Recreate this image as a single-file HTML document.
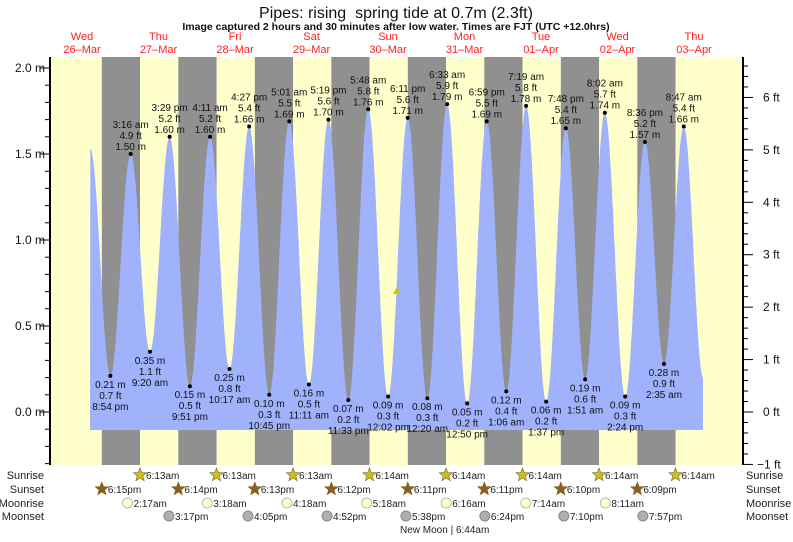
<!DOCTYPE html>
<html><head><meta charset="utf-8"><style>
body{margin:0;background:#fff;}
svg text{font-family:"Liberation Sans",sans-serif;}
</style></head><body>
<svg id="s" width="793" height="537" xmlns="http://www.w3.org/2000/svg">
<rect x="0" y="0" width="793" height="537" fill="#fff"/>
<rect x="50" y="57" width="693" height="408" fill="#ffffcc"/>
<g id="night" fill="#909090"></g>
<path id="tide" fill="#a0b2fc"/>
<g id="lbl" font-size="10" fill="#111" text-anchor="middle"></g>
<line x1="50" y1="57" x2="50" y2="465" stroke="#000" stroke-width="2"/>
<line x1="743" y1="57" x2="743" y2="465" stroke="#000" stroke-width="2"/>
<g id="ax" stroke="#000" stroke-width="1"></g>
<g font-size="12" fill="#111">
<text x="45" y="72" text-anchor="end">2.0 m</text>
<text x="45" y="158" text-anchor="end">1.5 m</text>
<text x="45" y="244" text-anchor="end">1.0 m</text>
<text x="45" y="330" text-anchor="end">0.5 m</text>
<text x="45" y="416" text-anchor="end">0.0 m</text>
</g>
<g id="ft" font-size="12" fill="#111"></g>
<text x="396" y="18" font-size="16" text-anchor="middle" fill="#111" style="white-space:pre">Pipes: rising  spring tide at 0.7m (2.3ft)</text>
<text x="396" y="30" font-size="10.5" font-weight="bold" text-anchor="middle" fill="#111">Image captured 2 hours and 30 minutes after low water. Times are FJT (UTC +12.0hrs)</text>
<g id="days" font-size="11" fill="#ff2020" text-anchor="middle"></g>
<polygon points="397,287 401,294 393,294" fill="#c8c020"/>
<g font-size="11" fill="#222">
<text x="44" y="479" text-anchor="end">Sunrise</text>
<text x="44" y="493" text-anchor="end">Sunset</text>
<text x="44" y="507" text-anchor="end">Moonrise</text>
<text x="44" y="520" text-anchor="end">Moonset</text>
<text x="746" y="479">Sunrise</text>
<text x="746" y="493">Sunset</text>
<text x="746" y="507">Moonrise</text>
<text x="746" y="520">Moonset</text>
</g>
<g id="ev" font-size="10" fill="#222"></g>
<text x="400" y="533" font-size="10" fill="#222">New Moon | 6:44am</text>
</svg>
<script>
var NS="http://www.w3.org/2000/svg";
function X(t){return 82+(t-12)*3.1875;}
function Y(m){return 412-m*172;}
function el(p,tag,a,txt){var e=document.createElementNS(NS,tag);for(var k in a)e.setAttribute(k,a[k]);if(txt!=null)e.textContent=txt;document.getElementById(p).appendChild(e);return e;}
for(var d=0;d<8;d++){var x0=X(18.22+24*d);el("night","rect",{x:x0,y:57,width:38.2,height:408});}
var dn=["Wed","Thu","Fri","Sat","Sun","Mon","Tue","Wed","Thu"],dd=["26–Mar","27–Mar","28–Mar","29–Mar","30–Mar","31–Mar","01–Apr","02–Apr","03–Apr"];
for(var i=0;i<9;i++){var x=X(12+24*i);el("days","text",{x:x,y:40},dn[i]);el("days","text",{x:x,y:53},dd[i]);}
var E=[[14.6,1.53],[20.9,0.21,"8:54 pm",0.7],[27.27,1.50,"3:16 am",4.9],[33.33,0.35,"9:20 am",1.1],[39.48,1.60,"3:29 pm",5.2],[45.85,0.15,"9:51 pm",0.5],[52.18,1.60,"4:11 am",5.2],[58.28,0.25,"10:17 am",0.8],[64.45,1.66,"4:27 pm",5.4],[70.75,0.10,"10:45 pm",0.3],[77.02,1.69,"5:01 am",5.5],[83.18,0.16,"11:11 am",0.5],[89.32,1.70,"5:19 pm",5.6],[95.55,0.07,"11:33 pm",0.2],[101.8,1.76,"5:48 am",5.8],[108.03,0.09,"12:02 pm",0.3],[114.18,1.71,"6:11 pm",5.6],[120.33,0.08,"12:20 am",0.3],[126.55,1.79,"6:33 am",5.9],[132.83,0.05,"12:50 pm",0.2],[138.98,1.69,"6:59 pm",5.5],[145.1,0.12,"1:06 am",0.4],[151.32,1.78,"7:19 am",5.8],[157.62,0.06,"1:37 pm",0.2],[163.8,1.65,"7:48 pm",5.4],[169.85,0.19,"1:51 am",0.6],[176.03,1.74,"8:02 am",5.7],[182.4,0.09,"2:24 pm",0.3],[188.6,1.57,"8:36 pm",5.2],[194.58,0.28,"2:35 am",0.9],[200.78,1.66,"8:47 am",5.4],[206.9,0.2]];
function h(t){for(var i=0;i<E.length-1;i++){var a=E[i],b=E[i+1];if(t>=a[0]&&t<=b[0]){var f=(t-a[0])/(b[0]-a[0]);return a[1]+(b[1]-a[1])*(1-Math.cos(Math.PI*f))/2;}}return 0;}
var t0=(90-82)/3.1875+12,t1=(703-82)/3.1875+12;
var d="M90,430";for(var t=t0;t<=t1;t+=0.1){d+=" L"+X(t).toFixed(1)+","+Y(h(t)).toFixed(1);}
d+=" L703,"+Y(h(t1)).toFixed(1)+" L703,430 Z";
document.getElementById("tide").setAttribute("d",d);
for(var i=1;i<E.length-1;i++){var e=E[i],x=X(e[0]),y=Y(e[1]);el("lbl","circle",{cx:x,cy:y,r:2,fill:"#000"});
 if(e[1]>1){el("lbl","text",{x:x,y:y-26},e[2]);el("lbl","text",{x:x,y:y-15},e[3].toFixed(1)+" ft");el("lbl","text",{x:x,y:y-4},e[1].toFixed(2)+" m");}
 else{el("lbl","text",{x:x,y:y+12},e[1].toFixed(2)+" m");el("lbl","text",{x:x,y:y+23},e[3].toFixed(1)+" ft");el("lbl","text",{x:x,y:y+34},e[2]);}}
for(var m=-0.3;m<=2.06;m+=0.1){var y=Y(m);if(y<57||y>465)continue;var maj=Math.abs(m*2-Math.round(m*2))<0.01;el("ax","line",{x1:maj?40:45,y1:y,x2:50,y2:y});}
for(var f=-1;f<=6.81;f+=0.2){var y=Y(f*0.3048);if(y<57||y>466)continue;var maj=Math.abs(f-Math.round(f))<0.01;el("ax","line",{x1:743,y1:y,x2:maj?753:748,y2:y});
 if(maj)el("ft","text",{x:Math.round(f)<0?757:763,y:y+4},(Math.round(f)<0?"−1":Math.round(f))+" ft");}
function star(x,y,c){var p="";for(var k=0;k<10;k++){var r=k%2?3:7,a=-Math.PI/2+k*Math.PI/5;p+=(x+r*Math.cos(a)).toFixed(1)+","+(y+r*Math.sin(a)).toFixed(1)+" ";}el("ev","polygon",{points:p,fill:c,stroke:"#806020","stroke-width":0.6});}
var sr=["6:13am","6:13am","6:13am","6:14am","6:14am","6:14am","6:14am","6:14am"],ss=["6:15pm","6:14pm","6:13pm","6:12pm","6:11pm","6:11pm","6:10pm","6:09pm"];
for(var i=0;i<8;i++){var x=X(30.2+24*i);star(x,475,"#c8c020");el("ev","text",{x:x+6,y:479},sr[i]);
 x=X(18.22+24*i);star(x,489,"#8a6020");el("ev","text",{x:x+6,y:493},ss[i]);}
var mr=[[26.28,"2:17am"],[51.3,"3:18am"],[76.3,"4:18am"],[101.3,"5:18am"],[126.27,"6:16am"],[151.23,"7:14am"],[176.18,"8:11am"]];
mr.forEach(function(a){var x=X(a[0]);el("ev","circle",{cx:x,cy:503,r:5,fill:"#ffffcc",stroke:"#bbb"});el("ev","text",{x:x+6,y:507},a[1]);});
var ms=[[39.28,"3:17pm"],[64.08,"4:05pm"],[88.87,"4:52pm"],[113.63,"5:38pm"],[138.4,"6:24pm"],[163.17,"7:10pm"],[187.95,"7:57pm"]];
ms.forEach(function(a){var x=X(a[0]);el("ev","circle",{cx:x,cy:516,r:5,fill:"#b0b0a8",stroke:"#888"});el("ev","text",{x:x+6,y:520},a[1]);});
</script>
</body></html>
